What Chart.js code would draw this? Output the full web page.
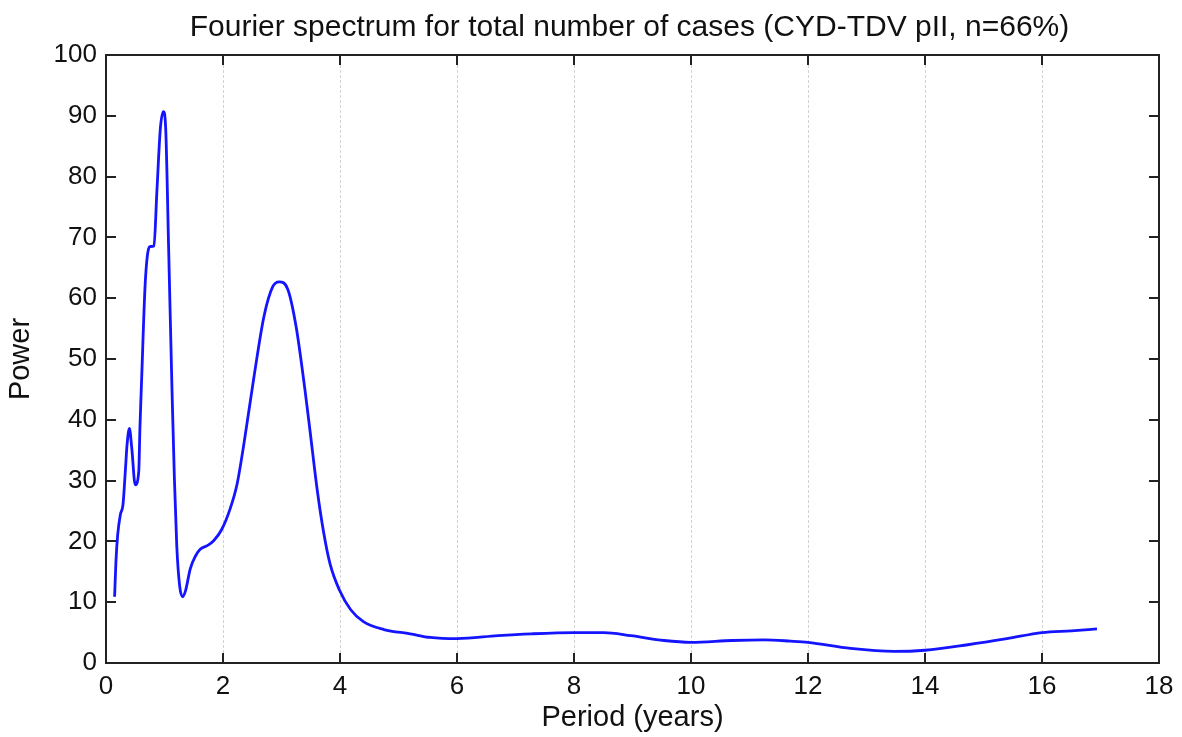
<!DOCTYPE html>
<html>
<head>
<meta charset="utf-8">
<script src="https://cdn.jsdelivr.net/npm/chart.js@4"></script>
<style>
  html, body { margin: 0; padding: 0; background: #fff; }
  #wrap { width: 1182px; height: 737px; position: relative; }
</style>
</head>
<body>
<div id="wrap"><canvas id="chart"></canvas></div>
<script>
// --- データ ---
const periods = [
  0.147, 0.17, 0.20, 0.245, 0.29, 0.33, 0.36, 0.40, 0.44, 0.50, 0.56, 0.58, 0.61, 0.67,
  0.73, 0.76, 0.82, 0.87, 0.93, 0.98, 1.02, 1.07, 1.13, 1.17, 1.21, 1.26, 1.31, 1.36,
  1.44, 1.53, 1.61, 1.73, 1.84, 1.98, 2.12, 2.24, 2.36, 2.53, 2.70, 2.85, 2.96, 3.11,
  3.25, 3.40, 3.49, 3.61, 3.72, 3.83, 3.99, 4.18, 4.40, 4.75, 5.2, 5.54, 6.0, 6.70,
  7.27, 8.0, 8.51, 8.97, 9.54, 10.0, 10.7, 11.25, 11.7, 12.0, 12.73, 13.47, 14.0, 14.73,
  15.4, 16.0, 16.5, 16.94
];
const power = [
  10.9, 16.7, 21.1, 24.4, 26.0, 31.5, 35.9, 38.6, 35.4, 29.3, 31.5, 38.7, 46.9, 62.4,
  68.2, 68.5, 68.6, 77.6, 88.0, 90.7, 88.0, 68.5, 44.2, 30.1, 19.2, 12.6, 10.9, 11.9,
  15.5, 17.6, 18.7, 19.3, 20.1, 22.0, 25.3, 29.4, 36.2, 47.1, 57.0, 61.9, 62.7, 61.4,
  55.3, 45.0, 38.0, 28.5, 21.5, 16.3, 12.0, 8.8, 6.8, 5.5, 4.8, 4.2, 4.0, 4.5,
  4.8, 5.0, 5.0, 4.5, 3.7, 3.4, 3.7, 3.8, 3.6, 3.4, 2.4, 1.9, 2.1, 3.0,
  4.0, 5.0, 5.3, 5.6
];
const xTicks = [0, 2, 4, 6, 8, 10, 12, 14, 16, 18];
const yTicks = [0, 10, 20, 30, 40, 50, 60, 70, 80, 90, 100];
const titleText = "Fourier spectrum for total number of cases (CYD-TDV pII, n=66%)";

const FONT = "'Liberation Sans', Arial, Helvetica, sans-serif";

// タイトルはプロット領域の中央に描く
const titlePlugin = {
  id: "plotTitle",
  afterDraw(chart) {
    const { ctx, chartArea: a } = chart;
    ctx.save();
    ctx.fillStyle = "#111";
    ctx.font = `30px ${FONT}`;
    ctx.textAlign = "center";
    ctx.textBaseline = "alphabetic";
    ctx.fillText(titleText, (a.left + a.right) / 2 - 3, 36);
    ctx.restore();
  }
};

// 枠と内向きの目盛り (MATLAB風)
const framePlugin = {
  id: "frame",
  afterDatasetsDraw(chart) {
    const { ctx, chartArea: a, scales } = chart;
    const len = 10;
    ctx.save();
    ctx.strokeStyle = "#222";
    ctx.lineWidth = 2;
    ctx.beginPath();
    for (const v of xTicks) {
      const px = Math.round(scales.x.getPixelForValue(v));
      ctx.moveTo(px, a.bottom); ctx.lineTo(px, a.bottom - len);
      ctx.moveTo(px, a.top); ctx.lineTo(px, a.top + len);
    }
    for (const v of yTicks) {
      const py = Math.round(scales.y.getPixelForValue(v));
      ctx.moveTo(a.left, py); ctx.lineTo(a.left + len, py);
      ctx.moveTo(a.right, py); ctx.lineTo(a.right - len, py);
    }
    ctx.stroke();
    ctx.strokeRect(a.left, a.top, a.right - a.left, a.bottom - a.top);
    ctx.restore();
  }
};

const ctx = document.getElementById("chart").getContext("2d");
new Chart(ctx, {
  type: "line",
  data: {
    datasets: [{
      data: periods.map((p, i) => ({ x: p, y: power[i] })),
      borderColor: "#1414ff",
      borderWidth: 2.8,
      pointRadius: 0,
      fill: false,
      cubicInterpolationMode: "monotone"
    }]
  },
  options: {
    responsive: true,
    maintainAspectRatio: false,
    animation: false,
    layout: { padding: { left: 0, right: 23, top: 55, bottom: 0 } },
    plugins: {
      legend: { display: false },
      tooltip: { enabled: false },
      title: { display: false }
    },
    scales: {
      x: {
        type: "linear",
        min: 0, max: 18,
        afterBuildTicks: s => { s.ticks = xTicks.map(v => ({ value: v })); },
        afterFit: s => { s.height = 74; },
        ticks: { color: "#111", font: { family: FONT, size: 26 }, padding: 8 },
        grid: { color: "#d2d2d2", lineWidth: 1, drawTicks: false },
        border: { display: false, dash: [3, 2] },
        title: {
          display: true, text: "Period (years)", color: "#111",
          font: { family: FONT, size: 29 }, padding: { top: 0, bottom: 2 }
        }
      },
      y: {
        min: 0, max: 100,
        afterBuildTicks: s => { s.ticks = yTicks.map(v => ({ value: v })); },
        afterFit: s => { s.width = 106; },
        ticks: { color: "#111", font: { family: FONT, size: 26 }, padding: 9 },
        grid: { display: false, drawTicks: false },
        border: { display: false },
        title: {
          display: true, text: "Power", color: "#111",
          font: { family: FONT, size: 29 }, padding: { top: 4, bottom: 0 }
        }
      }
    }
  },
  plugins: [framePlugin, titlePlugin]
});
</script>
</body>
</html>
